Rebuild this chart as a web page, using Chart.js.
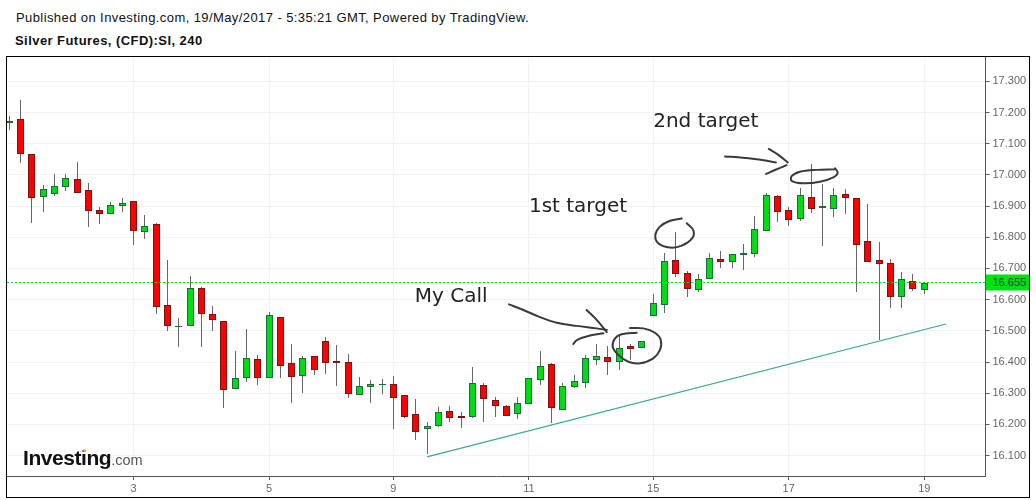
<!DOCTYPE html>
<html lang="en">
<head>
    <meta charset="UTF-8">
    <title>Silver Futures, (CFD):SI, 240</title>
    <script src="https://cdn.jsdelivr.net/npm/chart.js@4/dist/chart.umd.min.js"></script>
    <style>
        body { margin: 0; background: #fff; width: 1036px; height: 500px; overflow: hidden; position: relative; font-family: "Liberation Sans", Arial, sans-serif; }
        #published { position: absolute; left: 16px; top: 10px; font-size: 13px; color: #111; white-space: nowrap; letter-spacing: 0.41px; }
        #symbol { position: absolute; left: 15px; top: 33px; font-size: 13px; font-weight: bold; color: #111; white-space: nowrap; letter-spacing: 0.44px; }
        #frame { position: absolute; left: 6px; top: 56px; width: 1022px; height: 440px; border: 1px solid #000; }
        #frame canvas { display: block; }
        #logo { position: absolute; left: 23px; top: 446px; font-size: 21px; font-weight: bold; color: #111; white-space: nowrap; letter-spacing: -0.45px; }
        #logo span { font-size: 14.5px; font-weight: normal; color: #555; letter-spacing: 0; }
        #logoDot { position: absolute; left: 83px; top: 449px; width: 3px; height: 3px; border-radius: 2px; background: #f5a623; }
    </style>
</head>
<body>
    <div id="published">Published on Investing.com, 19/May/2017 - 5:35:21 GMT, Powered by TradingView.</div>
    <div id="symbol">Silver Futures, (CFD):SI, 240</div>
    <div id="frame"><canvas id="chart" width="1022" height="440"></canvas></div>
    <div id="logo">Investing<span>.com</span></div>
    <div id="logoDot"></div>

    <script>
        // candles, one per 4h bar
        const opens = [17.165, 17.178, 17.066, 16.930, 16.940, 16.962, 16.986, 16.951, 16.886, 16.873, 16.901,
            16.915, 16.818, 16.842, 16.582, 16.512, 16.515, 16.636, 16.553, 16.531, 16.313, 16.348, 16.409,
            16.348, 16.543, 16.396, 16.356, 16.418, 16.466, 16.402, 16.399, 16.295, 16.321, 16.325,
            16.329, 16.293, 16.232, 16.186, 16.196, 16.242, 16.227, 16.225, 16.325, 16.280, 16.258, 16.233,
            16.265, 16.342, 16.393, 16.246, 16.321, 16.332, 16.406, 16.415, 16.399, 16.451, 16.444,
            16.547, 16.582, 16.726, 16.685, 16.630, 16.665, 16.729, 16.720, 16.742, 16.747, 16.821, 16.931,
            16.886, 16.860, 16.928, 16.895, 16.889, 16.938, 16.925, 16.787, 16.726, 16.716, 16.610, 16.659, 16.632];
        const closes = [17.172, 17.066, 16.925, 16.954, 16.963, 16.989, 16.943, 16.885, 16.876, 16.902, 16.909,
            16.821, 16.835, 16.578, 16.517, 16.515, 16.636, 16.555, 16.534, 16.310, 16.348, 16.412, 16.350,
            16.550, 16.388, 16.353, 16.412, 16.376, 16.398, 16.398, 16.299, 16.322, 16.329, 16.329,
            16.286, 16.225, 16.177, 16.194, 16.239, 16.222, 16.222, 16.332, 16.283, 16.260, 16.228, 16.268,
            16.348, 16.386, 16.252, 16.322, 16.338, 16.412, 16.419, 16.401, 16.444, 16.443, 16.467,
            16.588, 16.723, 16.681, 16.633, 16.665, 16.733, 16.722, 16.745, 16.749, 16.825, 16.934, 16.882,
            16.856, 16.934, 16.892, 16.899, 16.934, 16.927, 16.776, 16.722, 16.715, 16.610, 16.665, 16.635, 16.653];
        const highs = [17.189, 17.240, 17.066, 16.967, 17.003, 17.003, 17.041, 16.974, 16.897, 16.913, 16.926,
            16.915, 16.871, 16.845, 16.727, 16.541, 16.676, 16.641, 16.580, 16.531, 16.436, 16.506, 16.423,
            16.560, 16.543, 16.458, 16.419, 16.418, 16.480, 16.455, 16.426, 16.352, 16.342, 16.346,
            16.355, 16.293, 16.282, 16.208, 16.256, 16.259, 16.240, 16.384, 16.332, 16.288, 16.261, 16.288,
            16.348, 16.436, 16.396, 16.333, 16.359, 16.423, 16.458, 16.452, 16.489, 16.457, 16.467,
            16.618, 16.750, 16.817, 16.692, 16.682, 16.750, 16.756, 16.745, 16.779, 16.868, 16.941, 16.934,
            16.896, 16.958, 17.035, 16.971, 16.958, 16.955, 16.925, 16.907, 16.785, 16.730, 16.689, 16.682, 16.653];
        const lows = [17.144, 17.039, 16.847, 16.882, 16.932, 16.948, 16.943, 16.834, 16.844, 16.873, 16.882,
            16.776, 16.796, 16.555, 16.501, 16.449, 16.515, 16.449, 16.501, 16.254, 16.313, 16.337, 16.328,
            16.348, 16.350, 16.270, 16.302, 16.360, 16.363, 16.324, 16.286, 16.295, 16.270, 16.298,
            16.186, 16.222, 16.150, 16.105, 16.193, 16.208, 16.189, 16.222, 16.209, 16.225, 16.228, 16.219,
            16.265, 16.328, 16.206, 16.246, 16.318, 16.318, 16.392, 16.357, 16.373, 16.408, 16.444,
            16.547, 16.558, 16.674, 16.610, 16.623, 16.665, 16.700, 16.700, 16.696, 16.738, 16.821, 16.850,
            16.836, 16.853, 16.879, 16.773, 16.865, 16.875, 16.625, 16.722, 16.471, 16.573, 16.573, 16.629, 16.618];

        // axes
        const priceTicks = [17.3, 17.2, 17.1, 17.0, 16.9, 16.8, 16.7, 16.6, 16.5, 16.4, 16.3, 16.2, 16.1];
        const dayTickBars = [11, 23, 34, 46, 57, 69, 81];
        const dayTickLabels = ['3', '5', '9', '11', '15', '17', '19'];
        const lastPrice = 16.655;

        // what was drawn by hand on top, as [bar, price]
        const trendLine = [[36.98, 16.096], [82.92, 16.522]];
        const myCallShaft = [[44.24, 16.585], [45.50, 16.567], [46.98, 16.544], [48.46, 16.526], [50.23, 16.516], [52.00, 16.508], [52.89, 16.503]];
        const myCallHeadTop = [[51.11, 16.567], [52.00, 16.535], [52.89, 16.496]];
        const myCallHeadLow = [[49.93, 16.458], [50.28, 16.471], [51.41, 16.485], [52.59, 16.492]];
        const myCallCircle = [[54.95, 16.509], [56.13, 16.508], [57.16, 16.494], [57.67, 16.471], [57.60, 16.439], [57.01, 16.412], [55.83, 16.396], [54.80, 16.401], [53.91, 16.423], [53.42, 16.449], [53.62, 16.476], [54.21, 16.489], [55.54, 16.494]];
        const firstCircle = [[59.53, 16.860], [58.49, 16.853], [57.60, 16.834], [57.19, 16.807], [57.45, 16.781], [58.49, 16.767], [59.53, 16.773], [60.46, 16.797], [60.55, 16.823], [59.97, 16.845]];
        const secondShaft = [[63.36, 17.059], [64.69, 17.056], [66.16, 17.050], [67.87, 17.040]];
        const secondHeadTop = [[67.23, 17.083], [68.08, 17.064], [68.91, 17.040]];
        const secondHeadLow = [[66.99, 17.003], [67.94, 17.018], [68.82, 17.031]];
        const secondCircle = [[73.10, 17.018], [71.48, 17.016], [70.00, 17.010], [69.26, 16.996], [69.26, 16.981], [70.29, 16.973], [71.77, 16.978], [72.95, 16.992], [73.34, 17.007], [73.10, 17.021]];
        const handStrokes = [myCallShaft, myCallHeadTop, myCallHeadLow, myCallCircle, firstCircle, secondShaft, secondHeadTop, secondHeadLow, secondCircle];

        const noteTexts = ['My Call', '1st target', '2nd target'];
        const noteBars = [35.9, 46.0, 57.0];
        const notePrices = [16.594, 16.882, 17.154];

        const GREEN = '#00dc14', RED = '#ff0000';
        const isUp = opens.map((o, i) => closes[i] >= o);

        const xMin = -0.204, xMax = 86.42;
        const yMin = 16.0348, yMax = 17.3778;

        // hand notes and the last price tag are not something Chart.js has out of the box
        const overlayPlugin = {
            id: 'overlay',
            // snap candles to whole pixels so wicks stay 1px and bodies stay crisp
            afterDatasetsUpdate(chart) {
                chart.getSortedVisibleDatasetMetas().forEach(meta => {
                    if (meta.type !== 'bar') return;
                    meta.data.forEach(el => {
                        el.x = Math.floor(el.x) + 0.5;
                        el.y = Math.round(el.y);
                        el.base = Math.round(el.base);
                        if (el.y === el.base) el.base = el.y + 1;
                    });
                });
            },
            afterDraw(chart) {
                const ctx = chart.ctx, x = chart.scales.x, y = chart.scales.y;
                ctx.save();
                ctx.fillStyle = '#222';
                ctx.font = '20px "DejaVu Sans"';
                ctx.textAlign = 'left';
                ctx.textBaseline = 'alphabetic';
                noteTexts.forEach((t, i) => {
                    ctx.fillText(t, x.getPixelForValue(noteBars[i]), y.getPixelForValue(notePrices[i]));
                });
                // price tag on the axis
                const py = y.getPixelForValue(lastPrice);
                ctx.fillStyle = '#00e114';
                ctx.fillRect(chart.chartArea.right + 0.5, py - 8, chart.width, 16);
                ctx.fillStyle = '#333';
                ctx.font = '11px "Liberation Sans"';
                ctx.textBaseline = 'middle';
                ctx.fillText(lastPrice.toFixed(3), chart.chartArea.right + 7, py + 0.5);
                ctx.restore();
            }
        };

        // no room kept for half a tick label, the plot runs right up to the frame
        function noPadding(axis) {
            axis.paddingLeft = axis.paddingRight = axis.paddingTop = axis.paddingBottom = 0;
        }

        const strokeSets = handStrokes.map(pts => ({
            type: 'line', data: pts, borderColor: '#3a3a3a', borderWidth: 2, tension: 0.35,
            pointRadius: 0, fill: false, order: 1, borderCapStyle: 'round'
        }));

        new Chart(document.getElementById('chart'), {
            data: {
                datasets: [
                    {
                        type: 'line', data: [[xMin, lastPrice], [xMax, lastPrice]], borderColor: '#00e114',
                        borderWidth: 1, borderDash: [2, 2], pointRadius: 0, order: 0
                    },
                    {
                        type: 'line', data: trendLine, borderColor: '#3aa893',
                        borderWidth: 1.2, pointRadius: 0, order: 1
                    },
                    ...strokeSets,
                    {
                        type: 'bar', grouped: false, order: 2, barThickness: 7, borderWidth: 1, borderSkipped: false, inflateAmount: 0,
                        data: opens.map((o, i) => ({ x: i, y: [o, closes[i]] })),
                        backgroundColor: isUp.map(u => u ? GREEN : RED),
                        borderColor: isUp.map(u => u ? '#1b6b3e' : '#7a1414')
                    },
                    {
                        type: 'bar', grouped: false, order: 3, barThickness: 1, borderWidth: 0, inflateAmount: 0,
                        data: lows.map((l, i) => ({ x: i, y: [l, highs[i]] })),
                        backgroundColor: '#666'
                    }
                ]
            },
            options: {
                responsive: false,
                animation: false,
                events: [],
                layout: { padding: 0 },
                plugins: { legend: { display: false }, tooltip: { enabled: false }, title: { display: false } },
                scales: {
                    x: {
                        type: 'linear', min: xMin, max: xMax, offset: false,
                        afterBuildTicks: axis => { axis.ticks = dayTickBars.map(v => ({ value: v })); },
                        afterFit: axis => { axis.height = 21; noPadding(axis); },
                        grid: { offset: false, color: '#f2f2f2', tickColor: '#555', tickLength: 4 },
                        border: { color: '#555', width: 1 },
                        ticks: {
                            autoSkip: false, maxRotation: 0, padding: 2, color: '#666',
                            font: { family: '"Liberation Sans"', size: 11 },
                            callback: v => dayTickLabels[dayTickBars.indexOf(v)]
                        }
                    },
                    y: {
                        position: 'right', min: yMin, max: yMax,
                        afterBuildTicks: axis => { axis.ticks = priceTicks.map(v => ({ value: v })); },
                        afterFit: axis => { axis.width = 43.5; noPadding(axis); },
                        grid: { color: '#f2f2f2', tickColor: '#555', tickLength: 4 },
                        border: { color: '#555', width: 1 },
                        ticks: {
                            padding: 3, color: '#666',
                            font: { family: '"Liberation Sans"', size: 11 },
                            callback: v => v.toFixed(3)
                        }
                    }
                }
            },
            plugins: [overlayPlugin]
        });
    </script>
</body>
</html>
